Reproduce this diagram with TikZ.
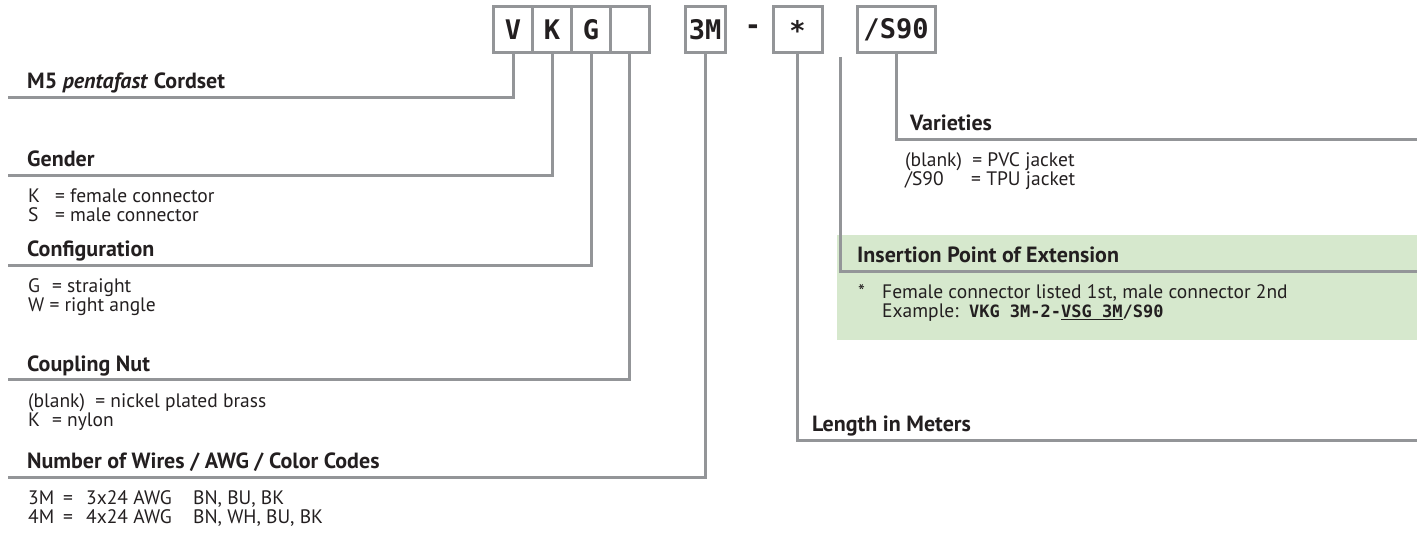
\documentclass[tikz,border=0pt]{standalone}
\usepackage{fontspec}
\setmainfont{PT Sans}
\newfontfamily\codefont{DejaVu Sans Mono}
\definecolor{lgray}{RGB}{147,149,152}
\definecolor{lgreen}{RGB}{214,232,205}
\definecolor{ink}{RGB}{35,31,32}
\begin{document}
\begin{tikzpicture}[x=1pt,y=-1pt,
  gline/.style={draw=lgray,line width=3pt},
  codebox/.style={draw=lgray,line width=3pt,minimum width=39pt,minimum height=46pt,inner sep=0pt,font=\codefont\bfseries\fontsize{27}{27}\selectfont,text=ink},
  head/.style={anchor=base west,inner sep=0pt,font=\bfseries\fontsize{22}{24}\selectfont,text=ink},
  body/.style={anchor=base west,inner sep=0pt,font=\fontsize{19.5}{22}\selectfont,text=ink},
]
\useasboundingbox (0,0) rectangle (1417,537);
% green panel
\fill[lgreen] (837,235) rectangle (1417,340);
% code boxes
\node[codebox] (bV) at (513,30) {V};
\node[codebox] (bK) at (552,30) {K};
\node[codebox] (bG) at (591,30) {G};
\node[codebox] (bC) at (629.5,30) {};
\node[codebox,minimum width=40pt] (b3M) at (705,30) {3M};
\node[inner sep=0pt,font=\codefont\bfseries\fontsize{27}{27}\selectfont,text=ink] (dash) at (753,30) {-};
\node[codebox,minimum width=49pt] (bStar) at (797.5,30) {*};
\node[codebox,minimum width=78pt] (bS) at (896,30) {/S90};
% line end coordinates
\coordinate (eM5) at (8,98);
\coordinate (eGen) at (8,176);
\coordinate (eCfg) at (8,266);
\coordinate (eNut) at (8,380);
\coordinate (eWir) at (8,477);
\coordinate (eLen) at (1417,440);
\coordinate (eVar) at (1417,140);
\coordinate (iTop) at (840,57);
\coordinate (iCorner) at (840,272);
\coordinate (eIns) at (1417,272);
% connectors
\draw[gline] (bV.south) |- (eM5);
\draw[gline] (bK.south) |- (eGen);
\draw[gline] (bG.south) |- (eCfg);
\draw[gline] (bC.south) |- (eNut);
\draw[gline] (b3M.south) |- (eWir);
\draw[gline] (bStar.south) |- (eLen);
\draw[gline] (bS.south) |- (eVar);
\draw[gline] (iTop) -- (iCorner) -- (eIns);
% left texts
\node[head] (tM5) at (27,89) {M5 \textit{pentafast} Cordset};
\node[head] (tGen) at (27,167) {Gender};
\node[body] (tGen1) at (28,203) {\makebox[27pt][l]{K}= female connector};
\node[body] (tGen2) at (28,222) {\makebox[27pt][l]{S}= male connector};
\node[head] (tCfg) at (27,257) {Configuration};
\node[body] (tCfg1) at (28,293) {\makebox[24pt][l]{G}= straight};
\node[body] (tCfg2) at (28,312) {W = right angle};
\node[head] (tNut) at (27,371) {Coupling Nut};
\node[body] (tNut1) at (28,407) {(blank)\ \ = nickel plated brass};
\node[body] (tNut2) at (28,426) {\makebox[24pt][l]{K}= nylon};
\node[head] (tWir) at (27,468) {Number of Wires / AWG / Color Codes};
\node[body] (tWir1) at (28,504) {\makebox[35pt][l]{3M}\makebox[23pt][l]{=}\makebox[107pt][l]{3x24 AWG}BN, BU, BK};
\node[body] (tWir2) at (28,523) {\makebox[35pt][l]{4M}\makebox[23pt][l]{=}\makebox[107pt][l]{4x24 AWG}BN, WH, BU, BK};
% right texts
\node[head] (tVar) at (910,131) {Varieties};
\node[body] (tVar1) at (905,167) {(blank)\ \ = PVC jacket};
\node[body] (tVar2) at (905,186) {\makebox[66pt][l]{/S90}= TPU jacket};
\node[head] (tIns) at (857,263) {Insertion Point of Extension};
\node[body] (tIns1) at (858,299) {\makebox[24pt][l]{*}Female connector listed 1st, male connector 2nd};
\node[body] (tIns2) at (882,318) {Example:\ \ {\codefont\bfseries\fontsize{17}{20}\selectfont VKG 3M-2-\underline{VSG 3M}/S90}};
\node[head] (tLen) at (812,431) {Length in Meters};
\end{tikzpicture}
\end{document}
